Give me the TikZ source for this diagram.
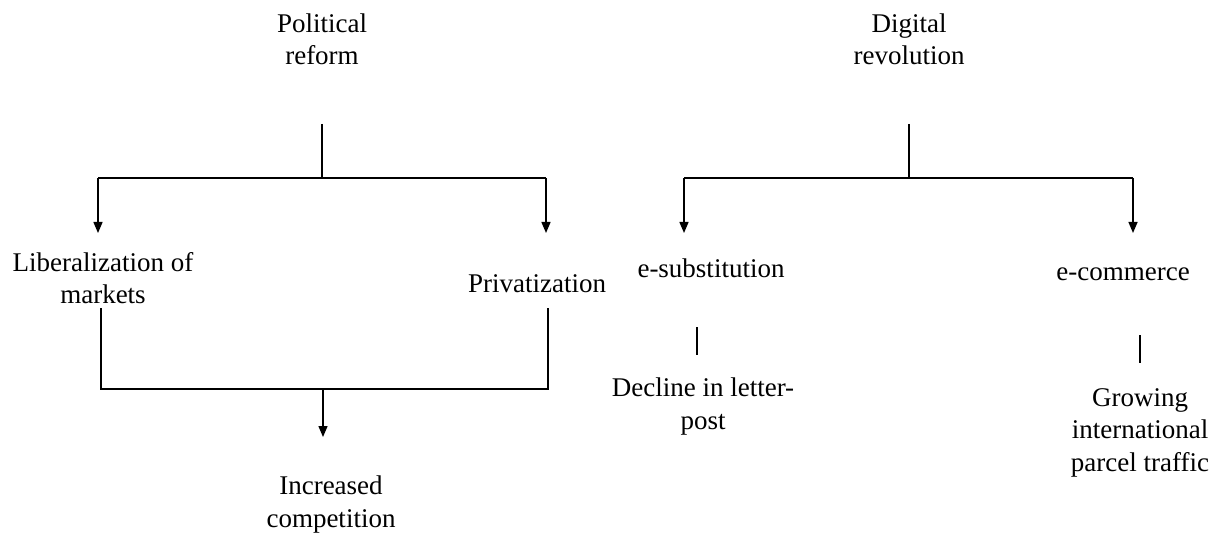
\documentclass[tikz,border=0pt]{standalone}
\usepackage{fontspec}
\setmainfont{Liberation Serif}
\usetikzlibrary{arrows.meta}
\begin{document}
\begin{tikzpicture}[x=1pt,y=-1pt,
  lbl/.style={inner sep=0pt,align=center,font=\fontsize{27}{32.5}\selectfont,anchor=base},
  ln/.style={line width=1.4pt},
  arr/.style={line width=1.4pt,-{Triangle[length=11pt,width=9pt]}}]
\useasboundingbox (0,0) rectangle (1214,534);
% texts (anchor = baseline of the last line)
\node[lbl] (pr) at (322,65) {Political\\reform};
\node[lbl] (dr) at (909,65) {Digital\\revolution};
\node[lbl] (lib) at (103,304) {Liberalization of\\markets};
\node[lbl] (priv) at (537,293) {Privatization};
\node[lbl] (esub) at (711,278) {e-substitution};
\node[lbl] (ecom) at (1123,281) {e-commerce};
\node[lbl] (dec) at (703,429) {Decline in letter-\\post};
\node[lbl] (grow) at (1140,471) {Growing\\international\\parcel traffic};
\node[lbl] (inc) at (331,527) {Increased\\competition};
% junction coordinates
\coordinate (prB) at (322,124);
\coordinate (prJ) at (322,178);
\coordinate (libT) at (98,178);
\coordinate (libA) at (98,233);
\coordinate (privT) at (546,178);
\coordinate (privA) at (546,233);
\coordinate (libB) at (101,308);
\coordinate (libJ) at (101,389);
\coordinate (privB) at (548,308);
\coordinate (privJ) at (548,389);
\coordinate (incJ) at (323,389);
\coordinate (incA) at (323,437);
\coordinate (drB) at (909,124);
\coordinate (drJ) at (909,178);
\coordinate (esubT) at (684,178);
\coordinate (esubA) at (684,233);
\coordinate (ecomT) at (1133,178);
\coordinate (ecomA) at (1133,233);
\coordinate (esubB) at (697,327);
\coordinate (decT) at (697,355);
\coordinate (ecomB) at (1140,335);
\coordinate (growT) at (1140,363);
% connectors
\draw[ln] (prB) -- (prJ);
\draw[ln] (libT) -- (privT);
\draw[arr] (libT) -- (libA);
\draw[arr] (privT) -- (privA);
\draw[ln] (libB) -- (libJ) -- (privJ) -- (privB);
\draw[arr] (incJ) -- (incA);
\draw[ln] (drB) -- (drJ);
\draw[ln] (esubT) -- (ecomT);
\draw[arr] (esubT) -- (esubA);
\draw[arr] (ecomT) -- (ecomA);
\draw[ln] (esubB) -- (decT);
\draw[ln] (ecomB) -- (growT);
\end{tikzpicture}
\end{document}
